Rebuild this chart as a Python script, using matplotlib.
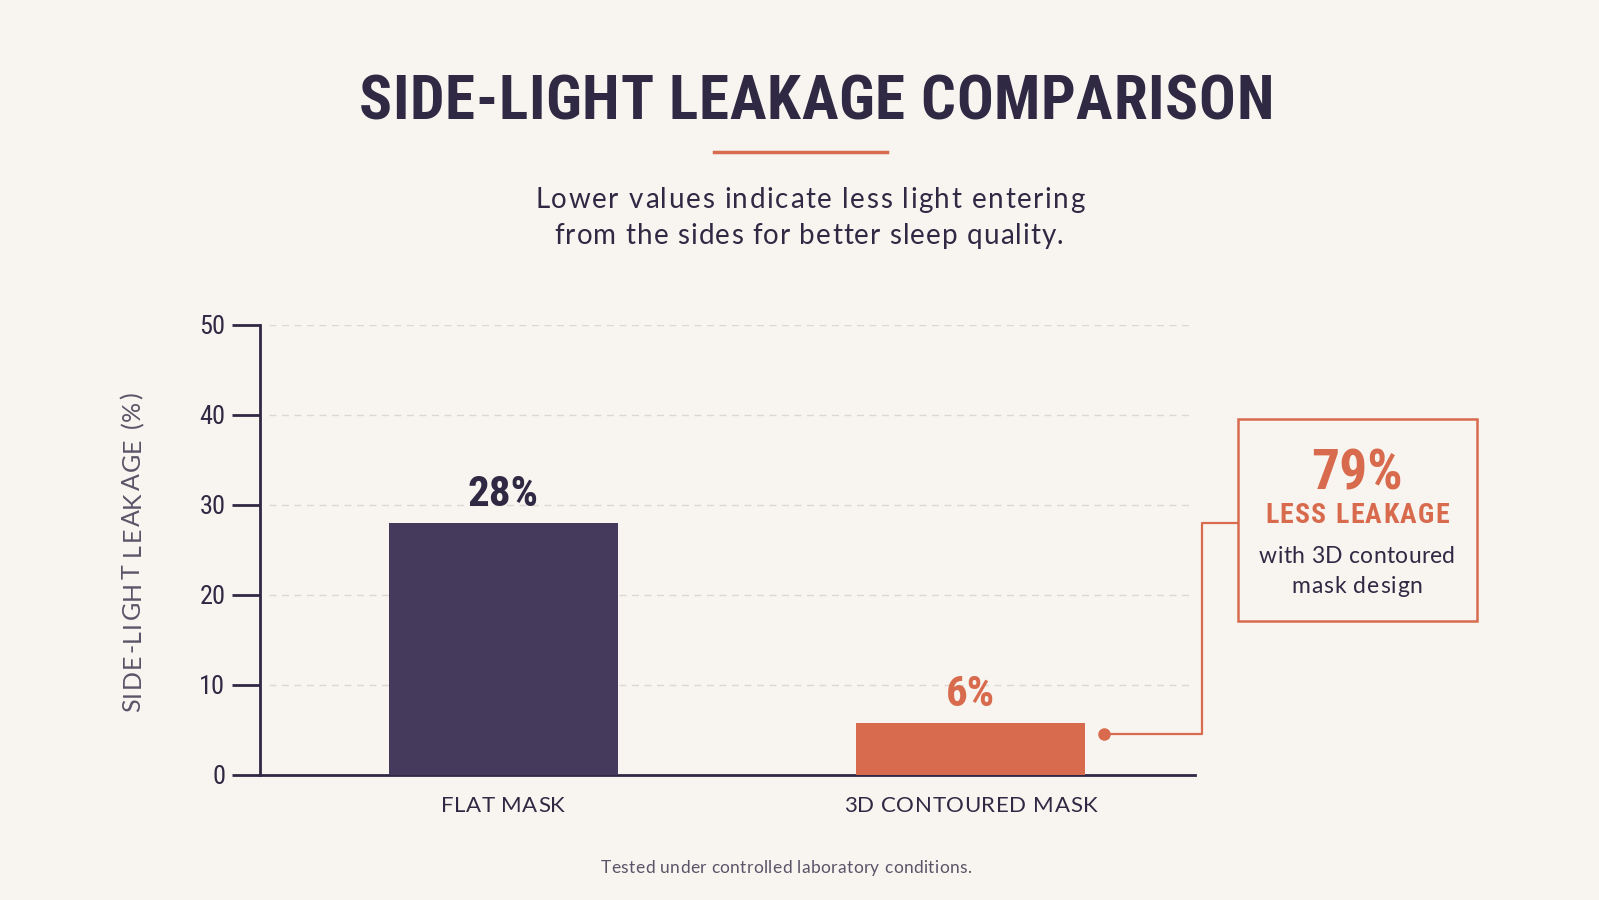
import matplotlib
matplotlib.use('Agg')
import matplotlib.pyplot as plt
from matplotlib import font_manager
from matplotlib.font_manager import FontProperties
from matplotlib.ft2font import FT2Font
from matplotlib.patches import Rectangle
from matplotlib.lines import Line2D

# --- data ---
categories = ['FLAT MASK', '3D CONTOURED MASK']
leakage = [28.0, 5.8]
y_ticks = [0, 10, 20, 30, 40, 50]
reduction_pct = 79

# --- style ---
BG = '#F8F5F0'
DARK = '#2F2944'
PURPLE = '#463A5C'
ORANGE = '#D86B4E'
GRID = '#DCD7D2'
MUTED = '#5A5468'

installed = {f.name for f in font_manager.fontManager.ttflist}


def pick(*names):
    for n in names:
        if n in installed:
            return n
    return 'DejaVu Sans'


COND = pick('Roboto Condensed', 'Liberation Sans Narrow', 'DejaVu Sans Condensed', 'Roboto')
BODY = pick('Lato', 'Open Sans', 'Noto Sans')

W, H = 1599, 900
DPI = 100
fig = plt.figure(figsize=(W / DPI, H / DPI), dpi=DPI, facecolor=BG)


def fx(px):
    return px / W


def fy(py):
    return 1 - py / H


def tracked(x, y, s, width, size, family, weight='normal', color=DARK, rotation=0):
    """Draw text centred on (x, y) px (top-left origin, y = baseline), spread to a given width."""
    fp = FontProperties(family=family, weight=weight, size=size)
    font = FT2Font(font_manager.findfont(fp))
    font.set_size(size, DPI)
    adv = [font.load_char(ord(c)).linearHoriAdvance / 65536 for c in s]
    natural = sum(adv)
    track = (width - natural) / (len(s) - 1) if width and len(s) > 1 else 0
    d = -(natural + track * (len(s) - 1)) / 2
    for c, a in zip(s, adv):
        if rotation == 0:
            px, py = x + d, y
        else:
            px, py = x, y - d
        fig.text(fx(px), fy(py), c, ha='left', va='baseline', rotation=rotation,
                 rotation_mode='anchor', fontproperties=fp, color=color)
        d += a + track


ax = fig.add_axes([fx(260), fy(775), fx(1195) - fx(260), fy(325) - fy(775)])
ax.set_facecolor(BG)

bar_colors = [PURPLE, ORANGE]
label_colors = [DARK, ORANGE]
x = list(range(len(categories)))
ax.bar(x, leakage, width=0.49, color=bar_colors, zorder=3)
ax.set_xlim(-0.52, 1.48)
ax.set_ylim(0, 50)

for xi, v, c in zip(x, leakage, label_colors):
    ax.text(xi, v + 1.9, f'{v:.0f}%', ha='center', va='baseline', fontsize=31,
            fontfamily=COND, fontweight='bold', color=c)

ax.set_yticks(y_ticks)
ax.set_yticklabels([str(t) for t in y_ticks], fontfamily=COND, fontsize=19,
                   fontweight='normal', color=DARK)
ax.tick_params(axis='y', length=20, width=2, color=DARK, pad=5)
ax.set_xticks(x)
ax.set_xticklabels([])
ax.tick_params(axis='x', length=0)

for t in y_ticks[1:]:
    ax.axhline(t, xmin=0.01, xmax=0.995, color=GRID, lw=1, ls=(0, (5, 4)), zorder=1)

for s in ['top', 'right']:
    ax.spines[s].set_visible(False)
for s in ['left', 'bottom']:
    ax.spines[s].set_color(DARK)
    ax.spines[s].set_linewidth(2)

# category labels below the axis, spaced like the reference
cat_widths = [124, 254]
for xi, name, w in zip(x, categories, cat_widths):
    xp = ax.transData.transform((xi, 0))[0]
    tracked(xp, 812, name, w, 16, BODY, color=DARK)

# y-axis label
tracked(140, 552, 'SIDE-LIGHT LEAKAGE (%)', 319, 18, BODY, color=MUTED, rotation=90)

# --- title block ---
tracked(816, 119, 'SIDE-LIGHT LEAKAGE COMPARISON', 915, 44, COND, weight=600, color=DARK)
fig.add_artist(Line2D([fx(714), fx(887)], [fy(152), fy(152)], color=ORANGE, lw=2.5))
tracked(810, 208, 'Lower values indicate less light entering', 549, 20, BODY, color=DARK)
tracked(809, 244, 'from the sides for better sleep quality.', 509, 20, BODY, color=DARK)

# --- callout ---
fig.add_artist(Rectangle((fx(1238), fy(621)), fx(1477) - fx(1238), fy(419) - fy(621),
                         fill=False, edgecolor=ORANGE, lw=1.8, transform=fig.transFigure))
fig.add_artist(Line2D([fx(1104), fx(1202), fx(1202), fx(1238)],
                      [fy(734), fy(734), fy(523), fy(523)], color=ORANGE, lw=1.6))
fig.add_artist(Line2D([fx(1104)], [fy(734)], marker='o', markersize=8, color=ORANGE, lw=0))
fig.text(fx(1357), fy(489), f'{reduction_pct}%', ha='center', va='baseline', fontsize=40,
         fontfamily=COND, fontweight='bold', color=ORANGE)
tracked(1357, 523, 'LESS LEAKAGE', 184, 20, COND, weight=600, color=ORANGE)
tracked(1357, 563, 'with 3D contoured', 196, 16.5, BODY, color=DARK)
tracked(1357, 593, 'mask design', 131, 16.5, BODY, color=DARK)

tracked(786, 873, 'Tested under controlled laboratory conditions.', 371, 12.5, BODY, color=MUTED)

fig.savefig('out.png', dpi=DPI, facecolor=BG)
